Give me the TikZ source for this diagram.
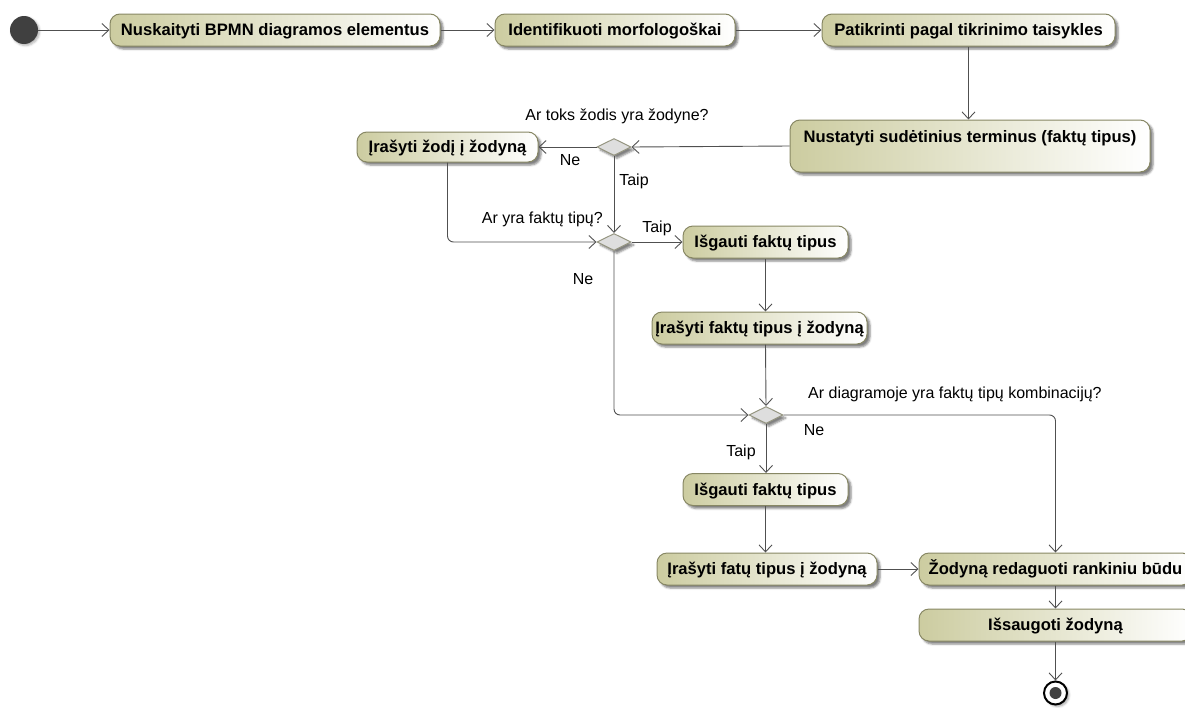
\documentclass[tikz,border=0pt]{standalone}
\usepackage{fontspec}
\setmainfont{Liberation Sans}
\usetikzlibrary{arrows.meta,shapes.geometric,shadows.blur}

\definecolor{actfill}{RGB}{204,204,160}
\definecolor{actline}{RGB}{135,135,100}
\definecolor{flowcol}{RGB}{80,80,80}
\definecolor{decfill}{RGB}{222,222,222}
\definecolor{decline}{RGB}{150,150,130}
\definecolor{dotcol}{RGB}{64,64,64}

\begin{document}
\begin{tikzpicture}[x=1pt,y=-1pt,
  softshadow/.style={blur shadow={shadow xshift=3pt, shadow yshift=-3pt,
      shadow blur radius=2pt, shadow opacity=50}},
  act/.style={draw=actline, line width=1pt, rounded corners=10pt,
      left color=actfill, right color=white, softshadow,
      font=\bfseries\fontsize{16.6}{19}\selectfont,
      minimum height=32pt, inner sep=0pt, text height=12.5pt, text depth=1pt},
  dec/.style={diamond, draw=decline, line width=1pt, fill=decfill, softshadow,
      minimum width=34pt, minimum height=17pt, aspect=2, inner sep=0pt},
  lbl/.style={font=\fontsize{16}{18}\selectfont, inner sep=0pt},
  flow/.style={draw=flowcol, line width=0.9pt,
      -{Straight Barb[length=7pt,width=13pt,line width=0.9pt]}},
  elbow/.style={rounded corners=6pt}
]
\useasboundingbox (0,0) rectangle (1185,707);

% start and end markers
\node[circle, fill=dotcol, minimum size=28pt, inner sep=0pt,
      blur shadow={shadow xshift=1.5pt, shadow yshift=-1.5pt, shadow opacity=30}] (start) at (24,30) {};
\node[circle, draw=black, line width=2pt, fill=white, minimum size=23pt, inner sep=0pt,
      blur shadow={shadow xshift=2pt, shadow yshift=-2pt, shadow opacity=35}] (finish) at (1055.5,693) {};
\fill[dotcol] (finish.center) circle (6pt);

% activities
\node[act, minimum width=330pt] (n1) at (275,30) {Nuskaityti BPMN diagramos elementus};
\node[act, minimum width=240pt] (n2) at (615,30) {Identifikuoti morfologoškai};
\node[act, minimum width=293pt] (n3) at (968.5,30) {Patikrinti pagal tikrinimo taisykles};
\node[act, minimum width=360pt, minimum height=52pt, text height=22pt, text depth=30pt]
      (n4) at (970,146) {Nustatyti sudėtinius terminus (faktų tipus)};
\node[act, minimum width=181pt, minimum height=30pt] (n5) at (447.5,147) {Įrašyti žodį į žodyną};
\node[act, minimum width=165pt] (n6) at (765.5,242) {Išgauti faktų tipus};
\node[act, minimum width=215pt] (n7) at (759.5,328) {Įrašyti faktų tipus į žodyną};
\node[act, minimum width=165pt] (n8) at (765.5,489.5) {Išgauti faktų tipus};
\node[act, minimum width=220pt] (n10) at (767,569) {Įrašyti fatų tipus į žodyną};
\node[act, minimum width=273pt] (n9) at (1055.5,569) {Žodyną redaguoti rankiniu būdu};
\node[act, minimum width=273pt] (n11) at (1055.5,625) {Išsaugoti žodyną};

% decisions
\node[dec] (d1) at (614,147) {};
\node[dec] (d2) at (614,242) {};
\node[dec] (d3) at (766,415) {};

% guard and question labels
\node[lbl] (q1) at (617,116) {Ar toks žodis yra žodyne?};
\node[lbl, anchor=east] (q2) at (603,219) {Ar yra faktų tipų?};
\node[lbl, anchor=west] (q3) at (808,394) {Ar diagramoje yra faktų tipų kombinacijų?};
\node[lbl] (g1) at (570,160) {Ne};
\node[lbl] (g2) at (634,181) {Taip};
\node[lbl] (g3) at (657,228) {Taip};
\node[lbl] (g4) at (583,279) {Ne};
\node[lbl] (g5) at (814,430) {Ne};
\node[lbl] (g6) at (741,452) {Taip};

% flows
\draw[flow] (start) -- (n1);
\draw[flow] (n1) -- (n2);
\draw[flow] (n2) -- (n3);
\draw[flow] (n3) -- (n3 |- n4.north);
\draw[flow] (n4.west) -- (d1.east);
\draw[flow] (d1.west) -- (n5.east);
\draw[flow] (d1.south) -- (d2.north);
\draw[flow, elbow] (n5.south) |- (d2.west);
\draw[flow] (d2.east) -- (n6.west);
\draw[flow, elbow] (d2.south) |- (d3.west);
\draw[flow] (n6.south) -- (n6.south |- n7.north);
\draw[flow] (n6.south |- n7.south) -- (d3.north);
\draw[flow, elbow] (d3.east) -| (n9.north);
\draw[flow] (d3.south) -- (d3.south |- n8.north);
\draw[flow] (n8.south) -- (n8.south |- n10.north);
\draw[flow] (n10.east) -- (n9.west);
\draw[flow] (n9.south) -- (n9.south |- n11.north);
\draw[flow] (n11.south) -- (finish.north);
\end{tikzpicture}
\end{document}
